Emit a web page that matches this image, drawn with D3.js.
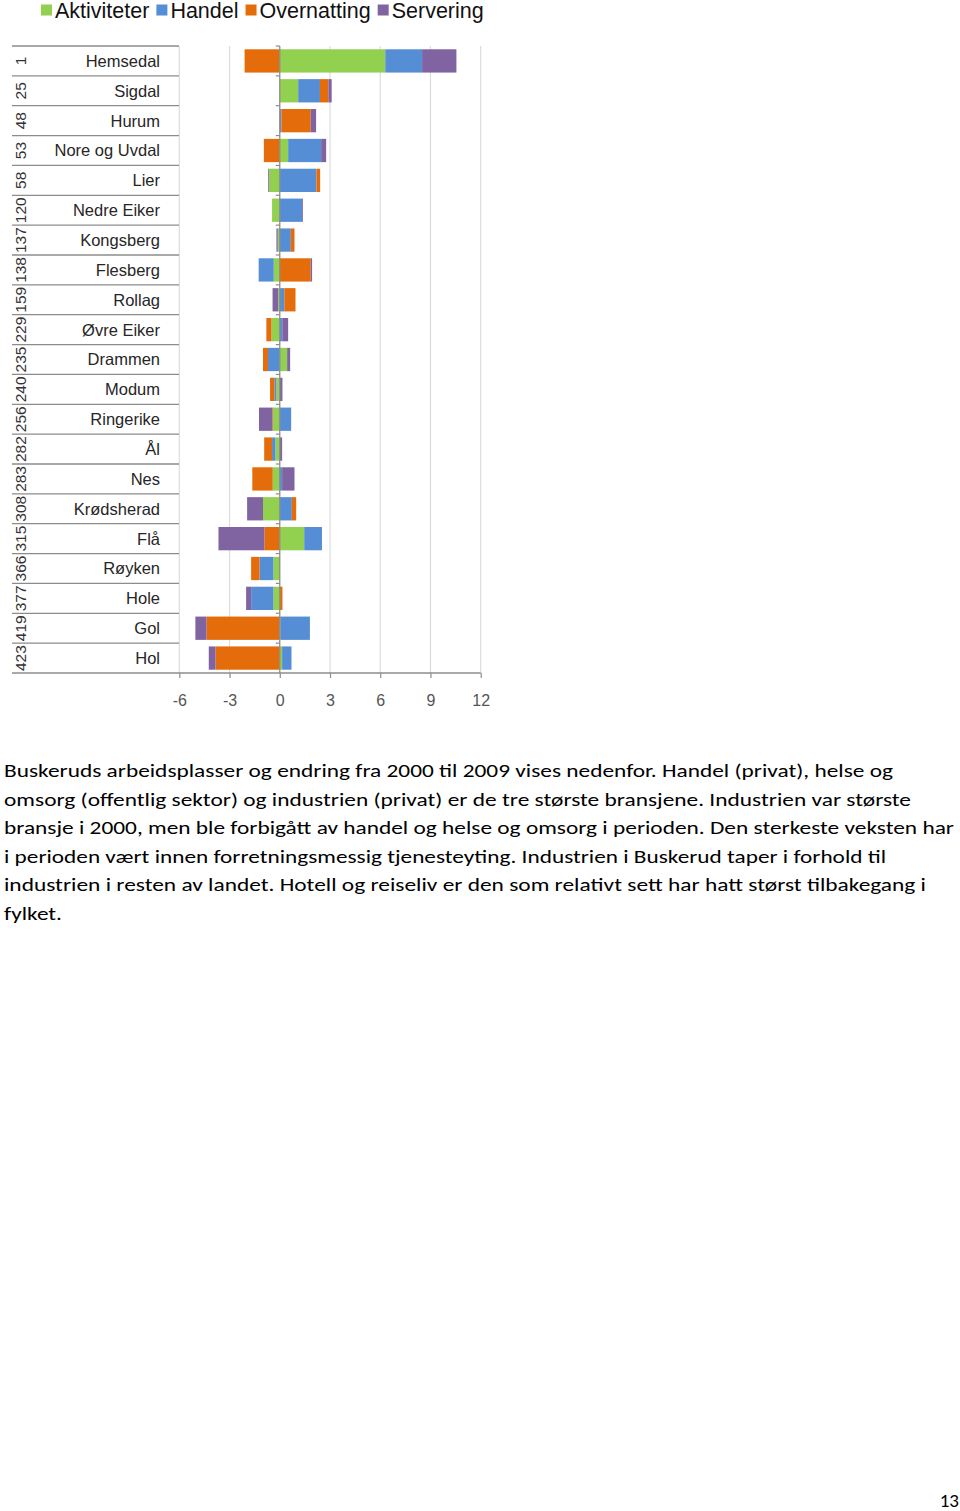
<!DOCTYPE html>
<html>
<head>
<meta charset="utf-8">
<script src="https://cdn.jsdelivr.net/npm/d3@7"></script>
<style>
  html, body { margin: 0; padding: 0; background: #fff; }
  svg { display: block; }
</style>
</head>
<body>
<div id="chart"></div>
<script>
// kommuner, ranked (rotated number in the left column)
const kommuner = ['Hemsedal', 'Sigdal', 'Hurum', 'Nore og Uvdal', 'Lier', 'Nedre Eiker', 'Kongsberg', 'Flesberg',
  'Rollag', 'Øvre Eiker', 'Drammen', 'Modum', 'Ringerike', 'Ål', 'Nes', 'Krødsherad', 'Flå', 'Røyken', 'Hole', 'Gol', 'Hol'];
const ranks = [1, 25, 48, 53, 58, 120, 137, 138, 159, 229, 235, 240, 256, 282, 283, 308, 315, 366, 377, 419, 423];

// series values
const aktiviteter = [6.3, 1.1, 0, 0.5, -0.64, -0.46, -0.12, -0.36, -0.1, -0.5, 0.44, -0.2, -0.4, -0.26, -0.42, -1.0, 1.46, -0.38, -0.38, 0.03, 0.14];
const handel = [2.2, 1.3, 0.1, 1.97, 2.19, 1.33, 0.66, -0.9, 0.27, 0.15, -0.7, -0.12, 0.68, -0.2, 0.14, 0.72, 1.06, -0.83, -1.33, 1.77, 0.56];
const overnatting = [-2.1, 0.5, 1.75, -0.95, 0.22, 0, 0.22, 1.85, 0.67, -0.3, -0.3, -0.26, -0.04, -0.47, -1.22, 0.26, -0.92, -0.5, 0.16, -4.38, -3.84];
const servering = [2.05, 0.2, 0.32, 0.3, -0.05, 0.05, -0.08, 0.08, -0.33, 0.35, 0.18, 0.16, -0.8, 0.14, 0.74, -0.95, -2.74, 0, -0.3, -0.66, -0.4];

const seriesNames = ['Aktiviteter', 'Handel', 'Overnatting', 'Servering'];
const seriesColors = ['#92d050', '#558ed5', '#e46c0a', '#8064a2'];
const xTicks = [-6, -3, 0, 3, 6, 9, 12];

const paragraph = [
  'Buskeruds arbeidsplasser og endring fra 2000 til 2009 vises nedenfor. Handel (privat), helse og',
  'omsorg (offentlig sektor) og industrien (privat) er de tre største bransjene. Industrien var største',
  'bransje i 2000, men ble forbigått av handel og helse og omsorg i perioden. Den sterkeste veksten har',
  'i perioden vært innen forretningsmessig tjenesteyting. Industrien i Buskerud taper i forhold til',
  'industrien i resten av landet. Hotell og reiseliv er den som relativt sett har hatt størst tilbakegang i',
  'fylket.'
];
const paragraphWidths = [889, 907, 950, 882, 922, 58];
const pageNumber = '13';

const W = 960, H = 1511;
const labelFont = "'Liberation Sans', Arial, sans-serif";
const bodyFont = "Carlito, 'Open Sans', sans-serif";

const svg = d3.select('#chart').append('svg').attr('width', W).attr('height', H);

// data table for the stack
const rows = kommuner.map((k, i) => ({
  kommune: k,
  Aktiviteter: aktiviteter[i],
  Handel: handel[i],
  Overnatting: overnatting[i],
  Servering: servering[i]
}));

const stacked = d3.stack().keys(seriesNames).offset(d3.stackOffsetDiverging)(rows);
const color = d3.scaleOrdinal().domain(seriesNames).range(seriesColors);

const x = d3.scaleLinear().domain([-6, 12]).range([179.3, 480.7]);
const y = d3.scaleBand().domain(kommuner).range([46, 673]).paddingInner(0.22).paddingOuter(0.11);
const yRows = d3.scaleBand().domain(kommuner).range([46, 673]);

// gridlines
svg.append('g')
  .selectAll('line')
  .data(xTicks.filter(d => d !== 0))
  .join('line')
  .attr('x1', d => x(d)).attr('x2', d => x(d))
  .attr('y1', 46).attr('y2', 673)
  .attr('stroke', '#dcdcdc').attr('stroke-width', 1.2);

// bars
svg.append('g')
  .selectAll('g')
  .data(stacked)
  .join('g')
  .attr('fill', d => color(d.key))
  .selectAll('rect')
  .data(d => d)
  .join('rect')
  .attr('x', d => x(Math.min(d[0], d[1])))
  .attr('width', d => Math.abs(x(d[1]) - x(d[0])))
  .attr('y', d => y(d.data.kommune))
  .attr('height', y.bandwidth());

// zero axis with small ticks at row boundaries
const zeroAxis = svg.append('g').attr('stroke', '#8c8c8c');
zeroAxis.append('line')
  .attr('x1', x(0)).attr('x2', x(0))
  .attr('y1', 46).attr('y2', 673)
  .attr('stroke-width', 1.3);
zeroAxis.selectAll('.rt')
  .data(kommuner)
  .join('line')
  .attr('class', 'rt')
  .attr('x1', x(0) - 4).attr('x2', x(0))
  .attr('y1', d => yRows(d)).attr('y2', d => yRows(d))
  .attr('stroke-width', 1.2);

// category table lines on the left
svg.append('g')
  .selectAll('line')
  .data(kommuner)
  .join('line')
  .attr('x1', 12).attr('x2', 179)
  .attr('y1', d => yRows(d)).attr('y2', d => yRows(d))
  .attr('stroke', '#8c8c8c').attr('stroke-width', 1.3);

// names
svg.append('g')
  .selectAll('text')
  .data(kommuner)
  .join('text')
  .attr('x', 160)
  .attr('y', d => yRows(d) + yRows.bandwidth() / 2)
  .attr('dy', '0.36em')
  .attr('text-anchor', 'end')
  .attr('font-family', labelFont)
  .attr('font-size', 16.5)
  .attr('fill', '#262626')
  .text(d => d);

// ranks, rotated
svg.append('g')
  .selectAll('text')
  .data(kommuner)
  .join('text')
  .attr('transform', (d, i) => `translate(20,${yRows(d) + yRows.bandwidth() / 2}) rotate(-90)`)
  .attr('dy', '0.36em')
  .attr('text-anchor', 'middle')
  .attr('font-family', labelFont)
  .attr('font-size', 15.5)
  .attr('fill', '#333')
  .text((d, i) => ranks[i]);

// x axis
const xAxis = svg.append('g')
  .attr('transform', 'translate(0,673)')
  .call(d3.axisBottom(x).tickValues(xTicks).tickSize(5).tickPadding(17)
    .tickFormat(d => (d < 0 ? '-' + Math.abs(d) : d)));
xAxis.select('.domain').remove();
xAxis.selectAll('line').attr('stroke', '#8c8c8c').attr('stroke-width', 1.2);
xAxis.selectAll('text')
  .attr('font-family', labelFont)
  .attr('font-size', 16)
  .attr('fill', '#555');
svg.append('line')
  .attr('x1', 12).attr('x2', x(12))
  .attr('y1', 673).attr('y2', 673)
  .attr('stroke', '#8c8c8c').attr('stroke-width', 1.3);

// legend
const legend = svg.append('g').attr('font-family', labelFont).attr('font-size', 21.5);
let lx = 41;
seriesNames.forEach((name, i) => {
  legend.append('rect')
    .attr('x', lx).attr('y', 4.5)
    .attr('width', 11).attr('height', 11)
    .attr('fill', seriesColors[i]);
  const t = legend.append('text')
    .attr('x', lx + 14).attr('y', 18)
    .attr('fill', '#111')
    .text(name);
  lx += 14 + t.node().getComputedTextLength() + 7;
});

// paragraph below the chart
svg.append('g')
  .selectAll('text')
  .data(paragraph)
  .join('text')
  .attr('x', 4)
  .attr('y', (d, i) => 777 + i * 28.5)
  .attr('font-family', bodyFont)
  .attr('font-size', 18.5)
  .attr('fill', '#000')
  .attr('textLength', (d, i) => paragraphWidths[i])
  .attr('lengthAdjust', 'spacingAndGlyphs')
  .text(d => d);

svg.append('text')
  .attr('x', 959).attr('y', 1507)
  .attr('text-anchor', 'end')
  .attr('font-family', bodyFont)
  .attr('font-size', 19)
  .attr('fill', '#000')
  .text(pageNumber);
</script>
</body>
</html>
